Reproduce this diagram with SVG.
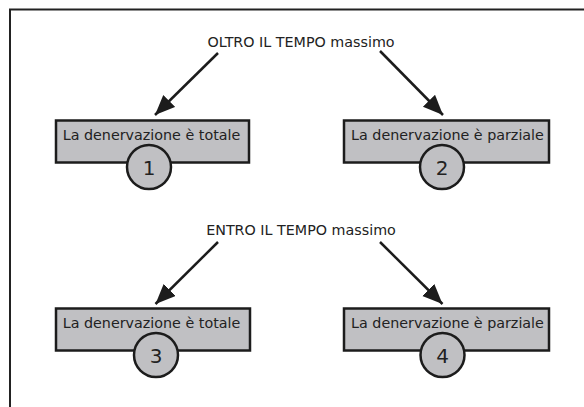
<svg xmlns="http://www.w3.org/2000/svg" width="584" height="407" viewBox="0 0 584 407">
  <style>
    .frame { fill: none; stroke: #222; stroke-width: 2; }
    .box { fill: #c0c0c3; stroke: #1c1c1c; stroke-width: 2.5; }
    .badge { fill: #c0c0c3; stroke: #1c1c1c; stroke-width: 2.5; }
    .lbl { font-family: "DejaVu Sans", Verdana, sans-serif; font-size: 14.3px; fill: #222; text-anchor: middle; }
    .num { font-family: "DejaVu Sans", Verdana, sans-serif; font-size: 20px; fill: #222; text-anchor: middle; }
    .arrow { stroke: #1c1c1c; stroke-width: 2.5; fill: none; marker-end: url(#head); }
  </style>
  <defs>
    <marker id="head" markerUnits="userSpaceOnUse" markerWidth="22" markerHeight="18" refX="20" refY="8.5" orient="auto">
      <path d="M0,0 L20,8.5 L0,17 Z" fill="#1c1c1c"/>
    </marker>
  </defs>

  <rect width="584" height="407" fill="#fff"/>
  <!-- outer border, open past the right and bottom edges -->
  <rect class="frame" x="10" y="9.5" width="600" height="420"/>

  <!-- section headings -->
  <text id="oltro" class="lbl" x="301" y="46.5">OLTRO IL TEMPO massimo</text>
  <text id="entro" class="lbl" x="301" y="234.5">ENTRO IL TEMPO massimo</text>

  <g id="connectors">
    <line class="arrow" x1="218" y1="53" x2="155" y2="115"/>
    <line class="arrow" x1="380" y1="51" x2="443" y2="115"/>
    <line class="arrow" x1="218" y1="242" x2="155.5" y2="304"/>
    <line class="arrow" x1="380" y1="242" x2="442.5" y2="304"/>
  </g>

  <g id="node1">
    <rect class="box" x="56" y="120.5" width="193" height="42"/>
    <text class="lbl" x="151.5" y="140">La denervazione è totale</text>
    <circle class="badge" cx="149" cy="167" r="22"/>
    <text class="num" x="149" y="174.5">1</text>
  </g>

  <g id="node2">
    <rect class="box" x="344" y="120.5" width="205" height="42"/>
    <text class="lbl" x="447.5" y="140">La denervazione è parziale</text>
    <circle class="badge" cx="442" cy="167" r="22"/>
    <text class="num" x="442" y="174.5">2</text>
  </g>

  <g id="node3">
    <rect class="box" x="56" y="308.5" width="194" height="42"/>
    <text class="lbl" x="151.5" y="328">La denervazione è totale</text>
    <circle class="badge" cx="156" cy="355" r="22"/>
    <text class="num" x="156" y="362.5">3</text>
  </g>

  <g id="node4">
    <rect class="box" x="344" y="308.5" width="205" height="42"/>
    <text class="lbl" x="447.5" y="328">La denervazione è parziale</text>
    <circle class="badge" cx="442.5" cy="355" r="22"/>
    <text class="num" x="442.5" y="362.5">4</text>
  </g>
</svg>
